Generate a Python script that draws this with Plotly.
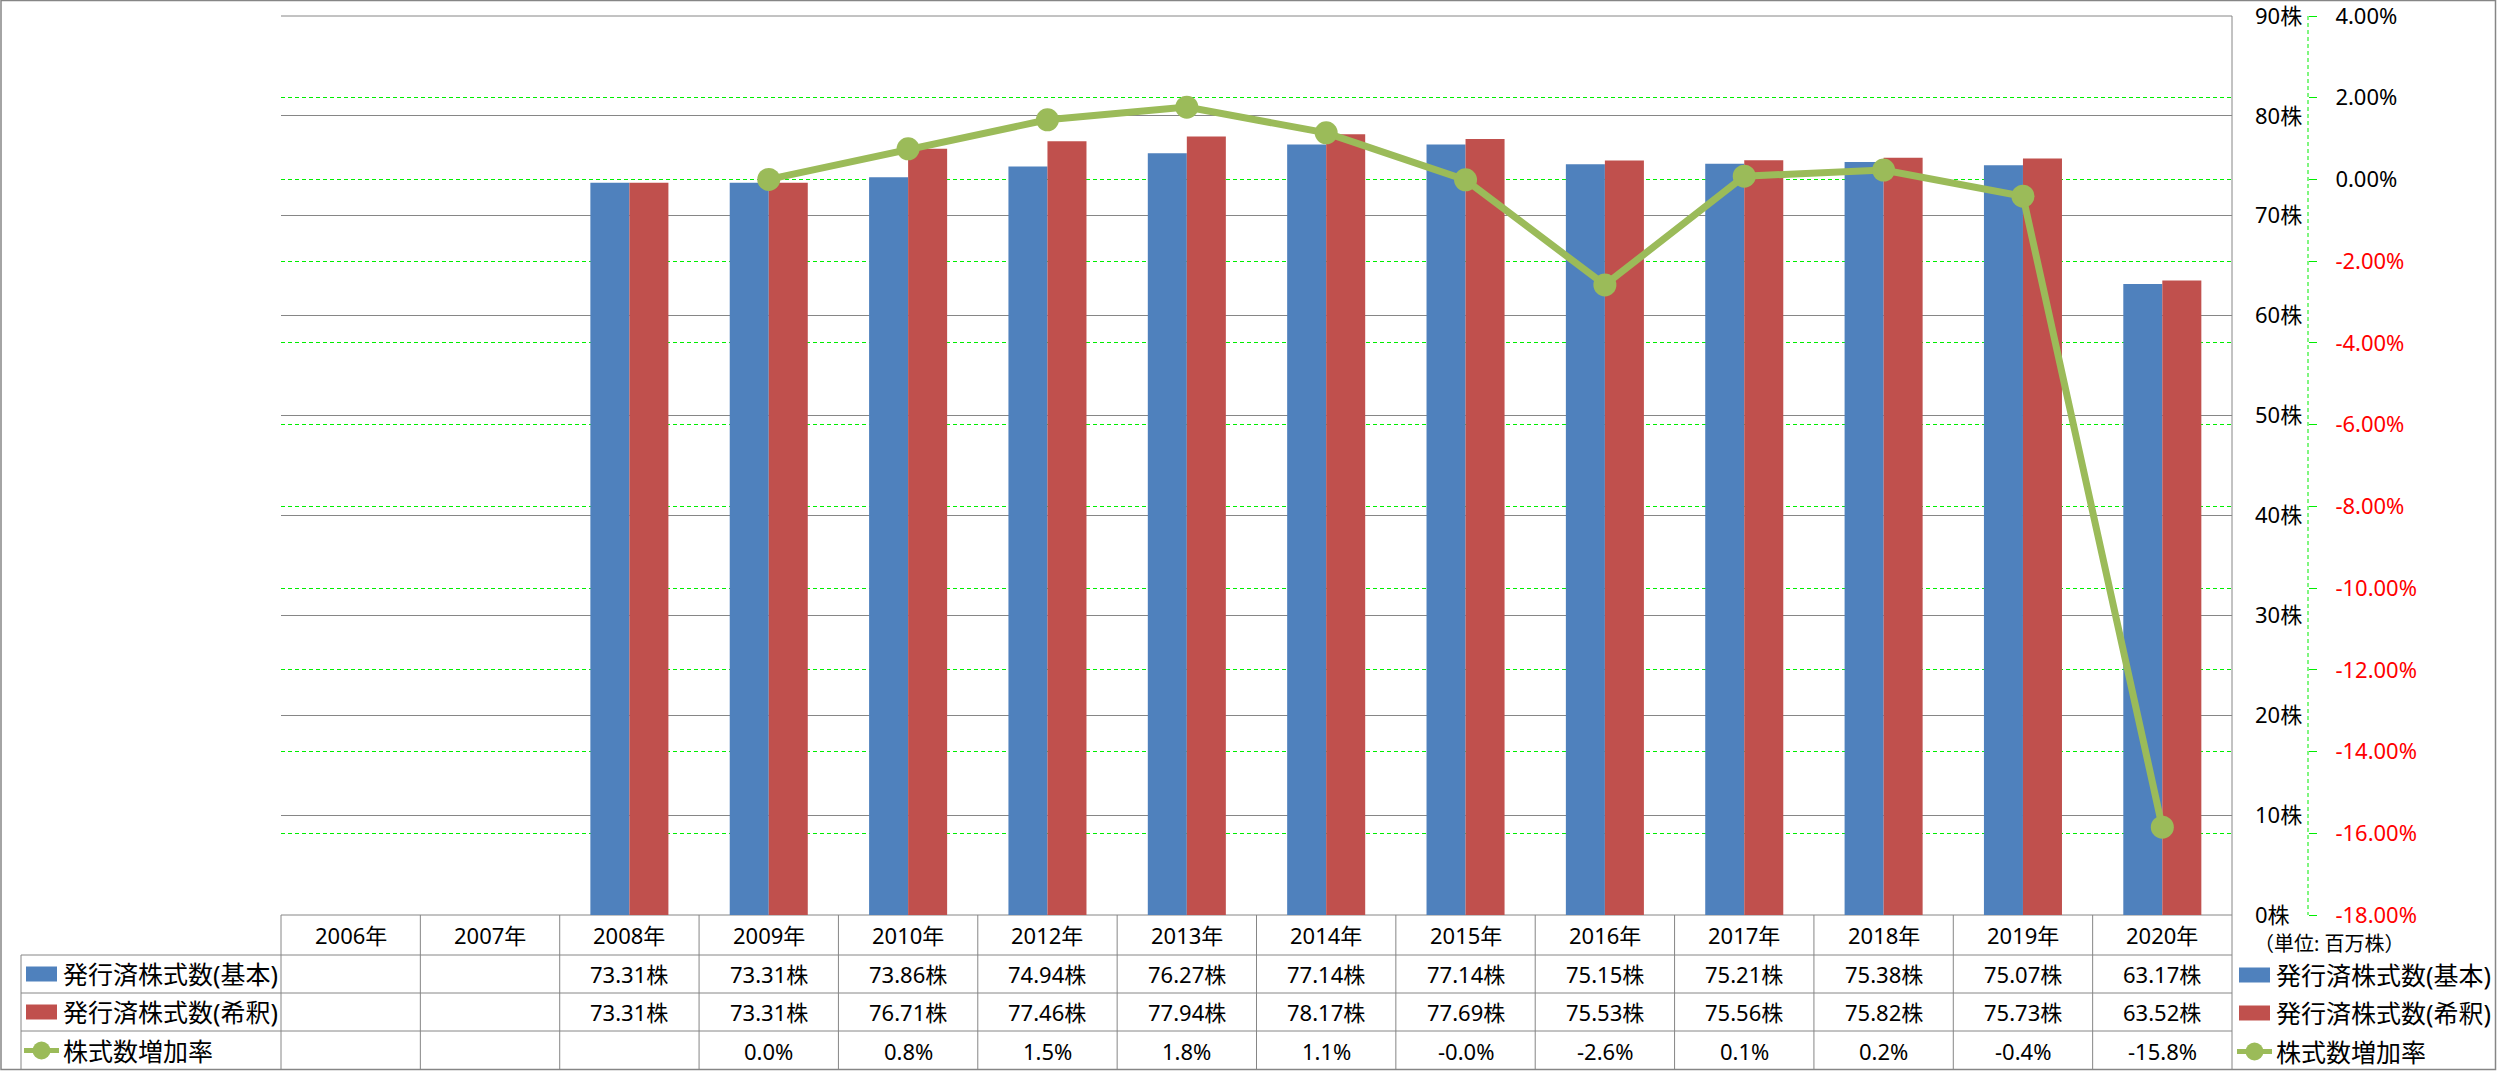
import plotly.graph_objects as go

W, H = 2497, 1071

categories = ["2006年", "2007年", "2008年", "2009年", "2010年", "2012年", "2013年",
              "2014年", "2015年", "2016年", "2017年", "2018年", "2019年", "2020年"]
basic = [None, None, 73.31, 73.31, 73.86, 74.94, 76.27, 77.14, 77.14, 75.15, 75.21, 75.38, 75.07, 63.17]
diluted = [None, None, 73.31, 73.31, 76.71, 77.46, 77.94, 78.17, 77.69, 75.53, 75.56, 75.82, 75.73, 63.52]
growth = [None, None, None, 0.00, 0.75, 1.46, 1.77, 1.14, -0.01, -2.58, 0.08, 0.23, -0.41, -15.85]
basic_labels = ["", "", "73.31株", "73.31株", "73.86株", "74.94株", "76.27株", "77.14株",
                "77.14株", "75.15株", "75.21株", "75.38株", "75.07株", "63.17株"]
diluted_labels = ["", "", "73.31株", "73.31株", "76.71株", "77.46株", "77.94株", "78.17株",
                  "77.69株", "75.53株", "75.56株", "75.82株", "75.73株", "63.52株"]
growth_labels = ["", "", "", "0.0%", "0.8%", "1.5%", "1.8%", "1.1%", "-0.0%", "-2.6%",
                 "0.1%", "0.2%", "-0.4%", "-15.8%"]
series_names = ["発行済株式数(基本)", "発行済株式数(希釈)", "株式数増加率"]
y1_ticks = list(range(0, 91, 10))
y2_ticks = list(range(-18, 5, 2))
unit_note = "（単位: 百万株）"

BLUE, RED, GREEN = "#4F81BD", "#C0504D", "#9BBB59"
GRAY = "#868686"
LIME = "#00EE00"
FONT = "Noto Sans, Noto Sans CJK JP"

PL, PR, PT, PB = 281, 2232, 16, 915
AX2 = 2308
colw = (PR - PL) / len(categories)
rows = [915, 955, 993, 1031, 1070]


def px(x):
    return x / W


def py(y):
    return 1 - y / H


fig = go.Figure()
fig.add_trace(go.Bar(x=categories, y=basic, marker_color=BLUE, name=series_names[0],
                     marker_line_width=0))
fig.add_trace(go.Bar(x=categories, y=diluted, marker_color=RED, name=series_names[1],
                     marker_line_width=0))
fig.add_trace(go.Scatter(x=categories, y=growth, yaxis="y2", mode="lines+markers",
                         line=dict(color=GREEN, width=7), marker=dict(size=23, color=GREEN),
                         name=series_names[2]))

y2_text = []
for v in y2_ticks:
    s = f"{v:.2f}%"
    if v < 0:
        s = f'<span style="color:#FF0000">{s}</span>'
    y2_text.append(s)

fig.update_layout(
    width=W, height=H,
    margin=dict(l=0, r=0, t=0, b=0, autoexpand=False),
    paper_bgcolor="white", plot_bgcolor="white",
    showlegend=False,
    barmode="group", bargap=0.44, bargroupgap=0,
    font=dict(family=FONT, size=22, color="black"),
    xaxis=dict(domain=[px(PL), px(PR)], range=[-0.5, len(categories) - 0.5],
               showticklabels=False, showgrid=False, zeroline=False, showline=False,
               ticks="", automargin=False),
    yaxis=dict(domain=[py(PB), py(PT)], range=[0, 90], side="right",
               tickvals=y1_ticks, ticktext=[f"{v}株" for v in y1_ticks],
               showgrid=True, gridcolor=GRAY, gridwidth=1, zeroline=False,
               showline=False, ticks="", ticklabelstandoff=22,
               ticklabeloverflow="allow", automargin=False,
               tickfont=dict(size=22, family=FONT)),
    yaxis2=dict(overlaying="y", side="right", anchor="free", position=px(AX2),
                range=[-18, 4], tickvals=y2_ticks, ticktext=y2_text,
                showgrid=True, gridcolor=LIME, gridwidth=1, griddash="4px,3px",
                zeroline=False, showline=False, ticks="outside", ticklen=8,
                tickcolor=LIME, tickwidth=1, ticklabelstandoff=14,
                ticklabeloverflow="allow", automargin=False,
                tickfont=dict(size=22, family=FONT)),
)

shapes = []
for yv in (PT, PB):
    shapes.append(dict(type="line", xref="paper", yref="paper", x0=px(PL), x1=px(PR),
                       y0=py(yv), y1=py(yv), line=dict(color=GRAY, width=1), layer="below"))
shapes.append(dict(type="line", xref="paper", yref="paper", x0=px(AX2), x1=px(AX2),
                   y0=py(PT), y1=py(PB), line=dict(color=LIME, width=1, dash="4px,3px")))
shapes.append(dict(type="rect", xref="paper", yref="paper", x0=px(1), x1=px(W - 1.5),
                   y0=py(0.5), y1=py(H - 1.5), line=dict(color=GRAY, width=1.5)))
shapes.append(dict(type="line", xref="paper", yref="paper", x0=px(PR), x1=px(PR),
                   y0=py(PT), y1=py(rows[-1]), line=dict(color=GRAY, width=1)))
for ry in rows[1:-1]:
    shapes.append(dict(type="line", xref="paper", yref="paper", x0=px(21), x1=px(PR),
                       y0=py(ry), y1=py(ry), line=dict(color=GRAY, width=1)))
shapes.append(dict(type="line", xref="paper", yref="paper", x0=px(21), x1=px(21),
                   y0=py(rows[1]), y1=py(rows[-1]), line=dict(color=GRAY, width=1)))
for k in range(len(categories)):
    xv = PL + k * colw
    shapes.append(dict(type="line", xref="paper", yref="paper", x0=px(xv), x1=px(xv),
                       y0=py(rows[0]), y1=py(rows[-1]), line=dict(color=GRAY, width=1)))

annotations = []
row_c = [(rows[i] + rows[i + 1]) / 2 for i in range(4)]
for k, cat in enumerate(categories):
    cx = px(PL + (k + 0.5) * colw)
    for r, lbl in enumerate([cat, basic_labels[k], diluted_labels[k], growth_labels[k]]):
        if lbl:
            annotations.append(dict(x=cx, y=py(row_c[r]), xref="paper", yref="paper",
                                    text=lbl, showarrow=False, xanchor="center",
                                    yanchor="middle", font=dict(size=22, family=FONT)))


def legend_item(x_key, x_text, yc, idx):
    if idx < 2:
        col = BLUE if idx == 0 else RED
        shapes.append(dict(type="rect", xref="paper", yref="paper", x0=px(x_key),
                           x1=px(x_key + 31), y0=py(yc - 7.5), y1=py(yc + 7.5),
                           fillcolor=col, line=dict(width=0)))
    else:
        shapes.append(dict(type="line", xref="paper", yref="paper", x0=px(x_key - 2),
                           x1=px(x_key + 33), y0=py(yc), y1=py(yc),
                           line=dict(color=GREEN, width=5)))
        shapes.append(dict(type="circle", xref="paper", yref="paper", x0=px(x_key + 6.5),
                           x1=px(x_key + 24.5), y0=py(yc - 9), y1=py(yc + 9),
                           fillcolor=GREEN, line=dict(width=0)))
    annotations.append(dict(x=px(x_text), y=py(yc), xref="paper", yref="paper",
                            text=series_names[idx], showarrow=False, xanchor="left",
                            yanchor="middle", font=dict(size=25, family=FONT)))


for i in range(3):
    legend_item(26, 61, row_c[i + 1], i)
    legend_item(2239, 2274, row_c[i + 1] + 1, i)

annotations.append(dict(x=px(2252), y=py(943), xref="paper", yref="paper", text=unit_note,
                        showarrow=False, xanchor="left", yanchor="middle",
                        font=dict(size=20, family=FONT)))

fig.update_layout(shapes=shapes, annotations=annotations)
fig.write_html("out.html", config={"displayModeBar": False},
               post_script="document.body.style.margin='0';document.body.style.padding='0';"
                           "document.documentElement.style.overflow='hidden';")
